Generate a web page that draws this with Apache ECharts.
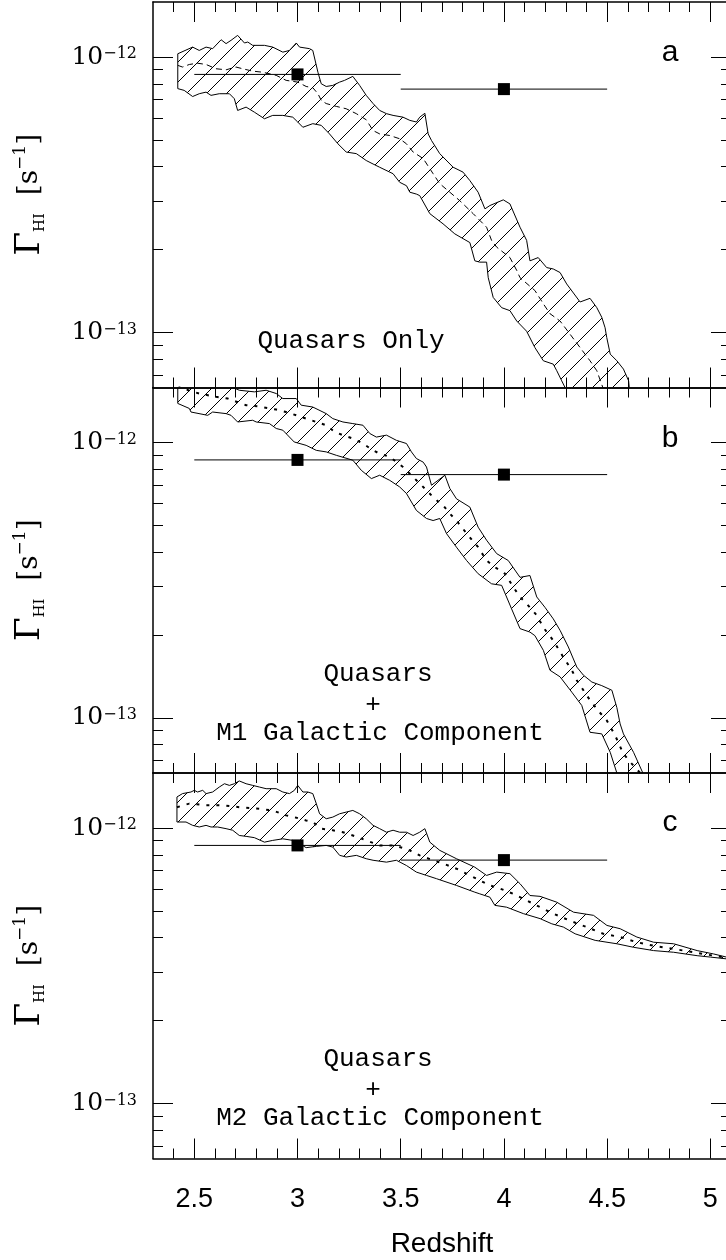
<!DOCTYPE html>
<html>
<head>
<meta charset="utf-8">
<script src="https://cdn.jsdelivr.net/npm/echarts@6/dist/echarts.min.js"></script>
<style>
html,body{margin:0;padding:0;background:#fff;}
#chart{width:726px;height:1260px;}
</style>
</head>
<body>
<div id="chart"></div>
<script>
// Photoionization rate Gamma_HI, values in units of 1e-13 s^-1; x = redshift
const majorX = [2.5, 3, 3.5, 4, 4.5, 5];
const minorX = [2.4, 2.6, 2.7, 2.8, 2.9, 3.1, 3.2, 3.3, 3.4, 3.6, 3.7, 3.8, 3.9, 4.1, 4.2, 4.3, 4.4, 4.6, 4.7, 4.8, 4.9];
const majorLogY = [-13, -12];                       // log10(Gamma / s^-1)
const minorGamma = [0.7, 0.8, 0.9, 2, 3, 4, 5, 6, 7, 8, 9]; // x 1e-13 s^-1
const panelLetters = ['a', 'b', 'c'];

// measured points with redshift-bin error bars
const pointZ = [3, 4];
const pointGamma = [8.65, 7.65];
const pointZLo = [2.5, 3.5];
const pointZHi = [3.5, 4.5];

// Panel a: quasars only
const aUpper = [[2.42,10.28],[2.492,10.87],[2.524,10.57],[2.557,10.87],[2.589,10.73],[2.63,11.56],[2.654,11.19],[2.678,11.5],[2.71,11.99],[2.743,11.25],[2.759,11.34],[2.783,11.03],[2.84,11.03],[2.88,10.87],[2.929,10.42],[2.961,10.57],[2.994,11.25],[3.01,10.87],[3.058,10.73],[3.074,10.57],[3.099,8.81],[3.115,8.0],[3.139,7.82],[3.171,7.89],[3.204,8.11],[3.228,8.23],[3.268,8.51],[3.301,7.89],[3.333,7.26],[3.366,6.78],[3.398,6.4],[3.431,6.23],[3.463,6.14],[3.511,6.05],[3.544,5.89],[3.576,5.81],[3.592,6.05],[3.617,6.25],[3.633,5.26],[3.649,4.98],[3.689,4.46],[3.754,3.98],[3.802,3.82],[3.835,3.56],[3.875,3.23],[3.908,2.81],[3.932,2.89],[3.997,3.03],[4.029,2.93],[4.078,2.41],[4.11,2.16],[4.126,1.82],[4.166,1.87],[4.207,1.72],[4.239,1.7],[4.272,1.65],[4.304,1.5],[4.369,1.29],[4.417,1.33],[4.45,1.23],[4.474,1.135],[4.49,1.04],[4.498,0.959],[4.515,0.834],[4.547,0.789],[4.579,0.736],[4.604,0.667],[4.607,0.631],[4.612,0.58]];
const aLower = [[2.42,7.68],[2.451,7.57],[2.492,7.19],[2.524,7.36],[2.557,7.46],[2.581,7.26],[2.621,7.36],[2.67,7.36],[2.694,7.06],[2.71,6.4],[2.751,6.58],[2.791,6.31],[2.84,5.97],[2.88,6.14],[2.929,6.14],[2.977,6.05],[3.001,5.81],[3.026,5.56],[3.074,5.73],[3.115,5.65],[3.155,5.26],[3.196,4.84],[3.236,4.52],[3.285,4.46],[3.333,4.21],[3.366,4.09],[3.398,3.98],[3.463,3.77],[3.495,3.51],[3.528,3.41],[3.544,3.23],[3.576,3.18],[3.592,3.14],[3.641,2.7],[3.705,2.48],[3.762,2.28],[3.835,2.12],[3.859,1.82],[3.883,1.8],[3.916,1.8],[3.924,1.58],[3.948,1.34],[3.989,1.23],[4.029,1.2],[4.062,1.1],[4.11,1.01],[4.15,0.881],[4.191,0.789],[4.239,0.767],[4.256,0.726],[4.28,0.667],[4.296,0.631],[4.306,0.58]];
const aMedian = [[2.42,9.33],[2.443,9.2],[2.476,9.4],[2.516,9.5],[2.557,9.4],[2.605,9.07],[2.654,8.99],[2.702,9.2],[2.734,9.07],[2.783,8.89],[2.832,8.81],[2.897,8.58],[2.945,8.23],[3.001,8.11],[3.042,7.82],[3.074,7.74],[3.099,7.36],[3.115,6.96],[3.139,6.78],[3.188,6.62],[3.236,6.49],[3.285,6.23],[3.333,5.92],[3.366,5.41],[3.398,5.26],[3.447,5.19],[3.495,5.05],[3.528,4.84],[3.56,4.52],[3.609,4.28],[3.657,3.77],[3.689,3.47],[3.786,3.01],[3.851,2.7],[3.916,2.41],[3.94,2.16],[3.965,2.04],[4.029,1.87],[4.062,1.68],[4.078,1.58],[4.15,1.42],[4.191,1.27],[4.223,1.17],[4.272,1.1],[4.32,0.986],[4.369,0.881],[4.417,0.789],[4.45,0.726],[4.479,0.631],[4.49,0.58]];

// Panel b: quasars + M1 galactic component
const bUpper = [[2.42,16.5],[2.55,16.8],[2.65,16.3],[2.718,15.49],[2.791,15.28],[2.848,15.49],[2.897,15.07],[2.929,14.45],[2.994,14.45],[3.018,13.67],[3.074,13.46],[3.139,12.74],[3.171,12.22],[3.22,11.88],[3.268,11.72],[3.317,11.56],[3.35,10.79],[3.382,10.47],[3.431,10.64],[3.479,10.19],[3.528,9.92],[3.552,9.25],[3.576,8.75],[3.609,8.49],[3.625,8.15],[3.649,7.0],[3.714,7.61],[3.738,6.81],[3.77,6.25],[3.835,5.83],[3.875,4.93],[3.916,4.42],[3.965,3.95],[4.021,3.73],[4.078,3.24],[4.126,3.29],[4.159,2.75],[4.199,2.52],[4.239,2.29],[4.272,2.08],[4.312,1.81],[4.353,1.53],[4.385,1.43],[4.426,1.35],[4.474,1.31],[4.523,1.26],[4.547,1.09],[4.563,0.951],[4.579,0.875],[4.628,0.75],[4.673,0.631],[4.684,0.58]];
const bLower = [[2.42,13.87],[2.476,13.3],[2.484,12.91],[2.565,12.56],[2.589,12.91],[2.654,12.74],[2.678,12.56],[2.71,11.88],[2.783,12.05],[2.8,11.88],[2.864,11.72],[2.897,11.25],[2.929,11.09],[2.984,10.05],[3.042,9.77],[3.091,9.37],[3.139,9.25],[3.188,8.99],[3.268,8.63],[3.309,7.93],[3.358,7.4],[3.398,7.61],[3.447,7.29],[3.495,6.9],[3.528,6.53],[3.576,5.67],[3.625,5.3],[3.657,5.21],[3.689,5.3],[3.722,4.67],[3.77,4.17],[3.819,3.73],[3.875,3.34],[3.94,3.07],[3.989,3.03],[4.037,2.49],[4.078,2.11],[4.126,2.05],[4.15,1.99],[4.191,1.76],[4.223,1.49],[4.272,1.41],[4.329,1.24],[4.377,1.11],[4.417,0.887],[4.474,0.875],[4.515,0.75],[4.547,0.631],[4.553,0.58]];
const bMedian = [[2.42,16.2],[2.471,15.49],[2.524,15.07],[2.605,14.66],[2.662,14.45],[2.751,13.67],[2.807,13.55],[2.897,13.18],[2.945,12.91],[2.994,12.56],[3.042,12.22],[3.091,11.88],[3.139,11.56],[3.18,10.94],[3.22,10.64],[3.268,10.35],[3.317,9.92],[3.366,9.37],[3.398,9.12],[3.447,8.87],[3.511,8.15],[3.56,7.5],[3.592,7.1],[3.625,6.71],[3.665,6.25],[3.705,5.92],[3.738,5.52],[3.77,5.21],[3.827,4.6],[3.875,4.17],[3.916,3.73],[3.956,3.53],[4.005,3.34],[4.045,2.99],[4.078,2.75],[4.11,2.6],[4.159,2.36],[4.191,2.13],[4.239,1.91],[4.288,1.66],[4.329,1.49],[4.353,1.37],[4.385,1.26],[4.417,1.16],[4.458,1.06],[4.499,0.977],[4.539,0.863],[4.579,0.74],[4.62,0.681],[4.66,0.631],[4.67,0.58]];

// Panel c: quasars + M2 galactic component
const cUpper = [[2.416,12.97],[2.443,13.34],[2.484,13.52],[2.5,13.71],[2.516,13.52],[2.541,13.71],[2.557,13.34],[2.589,13.52],[2.621,14.09],[2.646,14.49],[2.67,14.29],[2.694,14.49],[2.718,14.83],[2.751,14.49],[2.783,14.29],[2.816,14.09],[2.848,13.9],[2.897,13.9],[2.929,13.52],[2.961,13.34],[2.985,13.71],[3.001,14.29],[3.026,13.52],[3.05,13.52],[3.074,13.34],[3.091,12.27],[3.107,11.27],[3.139,10.81],[3.171,10.96],[3.204,11.27],[3.236,11.43],[3.268,11.59],[3.301,11.27],[3.333,10.81],[3.366,10.23],[3.398,9.95],[3.431,9.66],[3.463,9.82],[3.495,9.66],[3.528,9.66],[3.56,9.4],[3.592,9.66],[3.617,9.95],[3.641,8.89],[3.689,8.3],[3.77,7.74],[3.859,7.21],[3.916,6.73],[3.965,6.92],[4.029,6.83],[4.078,6.28],[4.126,5.69],[4.175,5.65],[4.256,5.38],[4.337,4.95],[4.434,4.82],[4.499,4.43],[4.563,4.31],[4.644,4.02],[4.725,3.85],[4.822,3.8],[4.936,3.59],[5.016,3.49],[5.078,3.4],[5.12,3.37]];
const cLower = [[2.416,10.52],[2.46,10.52],[2.492,10.23],[2.524,10.09],[2.557,10.23],[2.581,10.09],[2.613,10.09],[2.654,9.95],[2.686,9.82],[2.718,9.4],[2.751,9.33],[2.791,9.23],[2.84,8.89],[2.88,9.02],[2.929,9.14],[2.977,9.02],[3.01,8.77],[3.042,8.49],[3.091,8.58],[3.139,8.65],[3.171,8.53],[3.204,7.96],[3.236,7.85],[3.285,7.96],[3.333,7.74],[3.366,7.64],[3.431,7.52],[3.479,7.64],[3.528,7.31],[3.576,6.92],[3.625,6.73],[3.673,6.55],[3.77,6.19],[3.859,5.85],[3.883,5.77],[3.932,5.61],[3.956,5.24],[4.013,5.16],[4.094,4.89],[4.175,4.69],[4.232,4.49],[4.288,4.37],[4.345,4.13],[4.442,3.91],[4.547,3.8],[4.628,3.69],[4.725,3.59],[4.822,3.54],[4.936,3.44],[5.0,3.4],[5.078,3.35],[5.12,3.33]];
const cMedian = [[2.416,11.91],[2.476,12.27],[2.557,12.1],[2.638,12.1],[2.718,11.91],[2.8,11.78],[2.88,11.59],[2.945,11.12],[2.994,10.91],[3.042,10.66],[3.074,10.52],[3.115,9.95],[3.171,9.82],[3.22,9.66],[3.268,9.4],[3.333,9.02],[3.398,8.65],[3.463,8.65],[3.528,8.41],[3.592,7.96],[3.657,7.64],[3.705,7.43],[3.77,7.12],[3.851,6.64],[3.932,6.19],[3.981,6.03],[4.045,5.77],[4.11,5.46],[4.175,5.16],[4.239,4.89],[4.32,4.61],[4.401,4.37],[4.482,4.13],[4.563,4.02],[4.644,3.85],[4.725,3.74],[4.822,3.64],[4.919,3.54],[5.016,3.44],[5.078,3.38],[5.12,3.36]];

const panels = [
  {upper: aUpper, lower: aLower, median: aMedian, dash: [6, 4], width: 1},
  {upper: bUpper, lower: bLower, median: bMedian, dash: [3, 7], width: 2},
  {upper: cUpper, lower: cLower, median: cMedian, dash: [3, 7], width: 2}
];

// ---- layout / style ----
const xMin = 2.3, xMax = 5.1;
const logMin = -13.2, logMax = -11.8;
const gridTops = [2, 387.5, 773];
const gridH = 385.5;

function makeHatch() {
  const c = document.createElement('canvas');
  c.width = 20; c.height = 20;
  const ctx = c.getContext('2d');
  ctx.strokeStyle = '#000';
  ctx.lineWidth = 1;
  ctx.beginPath();
  ctx.moveTo(-2, 22); ctx.lineTo(22, -2);
  ctx.moveTo(-12, 12); ctx.lineTo(12, -12);
  ctx.moveTo(8, 32); ctx.lineTo(32, 8);
  ctx.stroke();
  return c;
}
const hatch = {image: makeHatch(), repeat: 'repeat'};

const frameLine = {show: true, onZero: false, lineStyle: {color: '#000', width: 1.5}};
const noLine = {show: false, onZero: false};
const tickStyle = {color: '#000', width: 1};

const yTitleRich = {
  g: {fontSize: 34, fontFamily: 'DejaVu Serif', color: '#000', lineHeight: 36},
  h: {fontSize: 15, fontFamily: 'DejaVu Serif', color: '#000', verticalAlign: 'bottom', lineHeight: 15},
  n: {fontSize: 28, fontFamily: 'DejaVu Serif', color: '#000', lineHeight: 36},
  p: {fontSize: 17, fontFamily: 'DejaVu Serif', color: '#000', verticalAlign: 'top', lineHeight: 17}
};
const yLabelRich = {
  b: {fontSize: 25, fontFamily: 'DejaVu Serif', color: '#000', lineHeight: 26},
  s: {fontSize: 16, fontFamily: 'DejaVu Serif', color: '#000', verticalAlign: 'top', lineHeight: 16, padding: [2, 0, 0, 0]}
};

const minorLogY = minorGamma.map(v => Math.log10(v) - 13);

const grids = [], xAxes = [], yAxes = [], series = [];
for (let g = 0; g < 3; g++) {
  const last = g === 2;
  grids.push({left: 153, top: gridTops[g], width: 578, height: gridH, containLabel: false, outerBoundsMode: 'none'});

  // x axes: bottom major, bottom minor, top major, top minor
  xAxes.push({gridIndex: g, type: 'value', min: xMin, max: xMax, position: 'bottom',
    axisLine: frameLine,
    axisTick: {show: true, inside: true, length: 20, customValues: majorX, lineStyle: tickStyle},
    axisLabel: {show: last, customValues: majorX, margin: 28, fontSize: 27, fontFamily: 'Liberation Sans', color: '#000'},
    splitLine: {show: false},
    name: last ? 'Redshift' : '', nameLocation: 'middle', nameGap: 72,
    nameTextStyle: {fontSize: 28, fontFamily: 'Liberation Sans', color: '#000'}
  });
  xAxes.push({gridIndex: g, type: 'value', min: xMin, max: xMax, position: 'bottom',
    axisLine: noLine,
    axisTick: {show: true, inside: true, length: 10, customValues: minorX, lineStyle: tickStyle},
    axisLabel: {show: false}, splitLine: {show: false}
  });
  xAxes.push({gridIndex: g, type: 'value', min: xMin, max: xMax, position: 'top',
    axisLine: frameLine,
    axisTick: {show: true, inside: true, length: 20, customValues: majorX, lineStyle: tickStyle},
    axisLabel: {show: false}, splitLine: {show: false}
  });
  xAxes.push({gridIndex: g, type: 'value', min: xMin, max: xMax, position: 'top',
    axisLine: noLine,
    axisTick: {show: true, inside: true, length: 10, customValues: minorX, lineStyle: tickStyle},
    axisLabel: {show: false}, splitLine: {show: false}
  });

  // y axes: data (log), left major, left minor, right major, right minor
  yAxes.push({gridIndex: g, type: 'log', logBase: 10, min: Math.pow(10, logMin + 13), max: Math.pow(10, logMax + 13),
    position: 'left', axisLine: frameLine, axisTick: {show: false}, axisLabel: {show: false},
    splitLine: {show: false}, minorTick: {show: false},
    name: '{g|Γ}{h|HI}{n|  [s}{p|−1}{n|]}', nameLocation: 'middle', nameRotate: 90, nameGap: 105,
    nameTextStyle: {color: '#000', rich: yTitleRich}
  });
  yAxes.push({gridIndex: g, type: 'value', min: logMin, max: logMax, position: 'left',
    axisLine: noLine,
    axisTick: {show: true, inside: true, length: 20, customValues: majorLogY, lineStyle: tickStyle},
    axisLabel: {show: true, customValues: majorLogY, margin: 16,
      formatter: v => '{b|10}{s|−' + Math.round(-v) + '}', rich: yLabelRich},
    splitLine: {show: false}
  });
  yAxes.push({gridIndex: g, type: 'value', min: logMin, max: logMax, position: 'left',
    axisLine: noLine,
    axisTick: {show: true, inside: true, length: 10, customValues: minorLogY, lineStyle: tickStyle},
    axisLabel: {show: false}, splitLine: {show: false}
  });
  yAxes.push({gridIndex: g, type: 'value', min: logMin, max: logMax, position: 'right',
    axisLine: frameLine,
    axisTick: {show: true, inside: true, length: 20, customValues: majorLogY, lineStyle: tickStyle},
    axisLabel: {show: false}, splitLine: {show: false}
  });
  yAxes.push({gridIndex: g, type: 'value', min: logMin, max: logMax, position: 'right',
    axisLine: noLine,
    axisTick: {show: true, inside: true, length: 10, customValues: minorLogY, lineStyle: tickStyle},
    axisLabel: {show: false}, splitLine: {show: false}
  });

  const P = panels[g];
  const xi = g * 4, yi = g * 5;
  series.push({
    type: 'custom', xAxisIndex: xi, yAxisIndex: yi, clip: true, silent: true, z: 1,
    data: P.upper.concat(P.lower), encode: {x: 0, y: 1},
    renderItem: function (params, api) {
      if (params.dataIndex !== 0) return;
      const pts = P.upper.map(p => api.coord(p))
        .concat(P.lower.slice().reverse().map(p => api.coord(p)));
      return {type: 'polygon', shape: {points: pts},
        style: {fill: hatch, stroke: '#000', lineWidth: 1}};
    }
  });
  series.push({
    type: 'line', xAxisIndex: xi, yAxisIndex: yi, data: P.median, symbol: 'none', showSymbol: false,
    silent: true, clip: true, z: 2,
    lineStyle: {color: '#000', width: P.width, type: P.dash}
  });
  series.push({
    type: 'custom', xAxisIndex: xi, yAxisIndex: yi, clip: true, silent: true, z: 3,
    data: pointZ.map((z, i) => [z, pointGamma[i], pointZLo[i], pointZHi[i]]), encode: {x: 0, y: 1},
    renderItem: function (params, api) {
      const y = api.value(1);
      const p1 = api.coord([api.value(2), y]);
      const p2 = api.coord([api.value(3), y]);
      return {type: 'line', shape: {x1: p1[0], y1: p1[1], x2: p2[0], y2: p2[1]},
        style: {stroke: '#000', lineWidth: 1}};
    }
  });
  series.push({
    type: 'scatter', xAxisIndex: xi, yAxisIndex: yi, silent: true, z: 4,
    data: pointZ.map((z, i) => [z, pointGamma[i]]),
    symbol: 'rect', symbolSize: 12, itemStyle: {color: '#000', opacity: 1}
  });
}

function txt(text, x, y, font) {
  return {type: 'text', x: x, y: y, silent: true, z: 10,
    style: {text: text, fill: '#000', font: font, align: 'center', verticalAlign: 'middle',
      textAlign: 'center', textVerticalAlign: 'middle'}};
}
const monoFont = '26px "Liberation Mono"';
const letterFont = '30px "Liberation Sans"';
const graphic = [
  txt('Quasars Only', 351, 341, monoFont),
  txt('Quasars', 378, 674, monoFont),
  txt('+', 373, 705, monoFont),
  txt('M1 Galactic Component', 380, 733, monoFont),
  txt('Quasars', 378, 1059, monoFont),
  txt('+', 373, 1090, monoFont),
  txt('M2 Galactic Component', 380, 1118, monoFont),
  txt(panelLetters[0], 670, 53, letterFont),
  txt(panelLetters[1], 670, 438.5, letterFont),
  txt(panelLetters[2], 670, 823, letterFont)
];

const chart = echarts.init(document.getElementById('chart'), null, {renderer: 'canvas'});
chart.setOption({
  animation: false,
  backgroundColor: '#fff',
  grid: grids,
  xAxis: xAxes,
  yAxis: yAxes,
  series: series,
  graphic: graphic
});
</script>
</body>
</html>
